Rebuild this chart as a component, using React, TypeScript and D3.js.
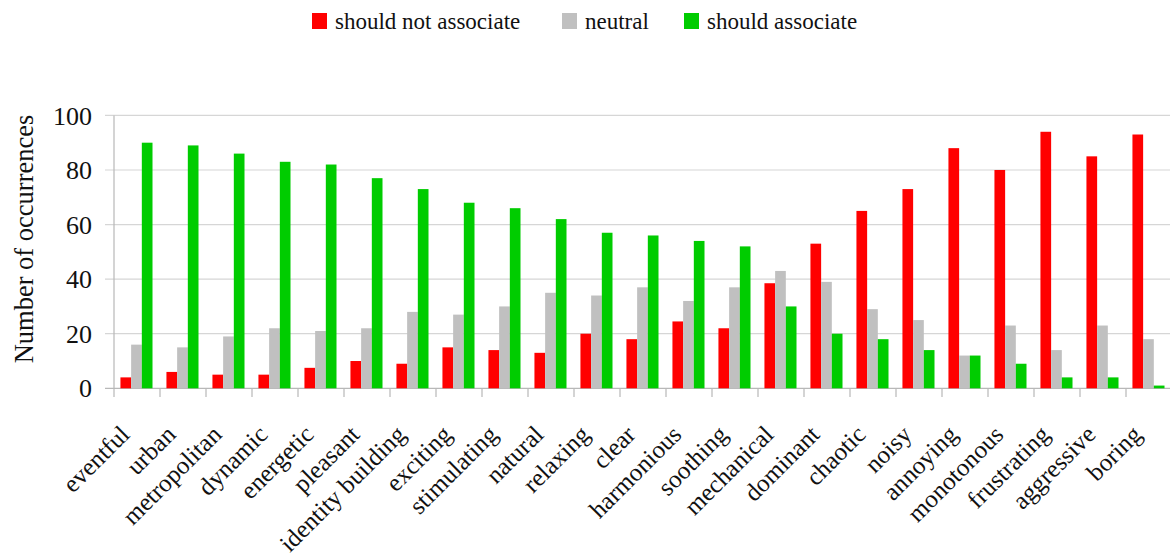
import React from "react";
import * as d3 from "d3";

// Adjectives rated by respondents, in display order
const categories = [
  "eventful", "urban", "metropolitan", "dynamic", "energetic", "pleasant",
  "identity building", "exciting", "stimulating", "natural", "relaxing", "clear",
  "harmonious", "soothing", "mechanical", "dominant", "chaotic", "noisy",
  "annoying", "monotonous", "frustrating", "aggressive", "boring",
];

const shouldNotAssociate = [4, 6, 5, 5, 7.5, 10, 9, 15, 14, 13, 20, 18, 24.5, 22, 38.5, 53, 65, 73, 88, 80, 94, 85, 93];
const neutral = [16, 15, 19, 22, 21, 22, 28, 27, 30, 35, 34, 37, 32, 37, 43, 39, 29, 25, 12, 23, 14, 23, 18];
const shouldAssociate = [90, 89, 86, 83, 82, 77, 73, 68, 66, 62, 57, 56, 54, 52, 30, 20, 18, 14, 12, 9, 4, 4, 1];

const seriesNames = ["should not associate", "neutral", "should associate"];
const seriesColors = ["#ff0000", "#c0c0c0", "#00cc00"];
const seriesValues = [shouldNotAssociate, neutral, shouldAssociate];

const yTicks = [0, 20, 40, 60, 80, 100];
const yTitle = "Number of occurrences";

const W = 1170;
const H = 554;
const FONT = '"Liberation Serif", "DejaVu Serif", serif';
const textStyle = { fontFamily: FONT };

export default function App() {
  const x0 = d3.scaleBand<string>().domain(categories).range([114, 1172]).padding(0);
  const bw = x0.bandwidth();
  const x1 = d3.scaleBand<number>().domain([0, 1, 2]).range([bw * 0.14, bw * 0.837]).padding(0);
  const y = d3.scaleLinear().domain([0, 100]).range([388.3, 115.4]);

  const legendItems = [
    { sx: 312, tx: 335 },
    { sx: 562, tx: 585 },
    { sx: 684, tx: 707 },
  ];

  return (
    <svg
      width={W}
      height={H}
      style={{ position: "absolute", left: 0, top: 0, background: "#fff", fontFamily: FONT }}
    >
      {/* legend */}
      {legendItems.map((it, i) => (
        <g key={seriesNames[i]}>
          <rect x={it.sx} y={13} width={15} height={16} fill={seriesColors[i]} />
          <text x={it.tx} y={29} fontSize={23} fill="#111" style={textStyle}>
            {seriesNames[i]}
          </text>
        </g>
      ))}

      {/* horizontal gridlines and y ticks */}
      {yTicks.map((t) => (
        <g key={t}>
          <line
            x1={105}
            x2={W}
            y1={y(t)}
            y2={y(t)}
            stroke={t === 0 ? "#b8b8b8" : "#d6d6d6"}
            strokeWidth={1.2}
          />
          <text x={92} y={y(t)} dy="0.35em" textAnchor="end" fontSize={26} fill="#111" style={textStyle}>
            {t}
          </text>
        </g>
      ))}

      {/* y axis line */}
      <line x1={114} x2={114} y1={y(100)} y2={397} stroke="#b8b8b8" strokeWidth={1.2} />

      {/* category boundary ticks */}
      {categories.map((c) => (
        <line
          key={"t" + c}
          x1={(x0(c) as number) + bw}
          x2={(x0(c) as number) + bw}
          y1={y(0)}
          y2={397}
          stroke="#b8b8b8"
          strokeWidth={1.2}
        />
      ))}

      {/* bars */}
      {categories.map((c, ci) => (
        <g key={c} transform={`translate(${x0(c)},0)`}>
          {seriesValues.map((vals, si) => (
            <rect
              key={si}
              x={x1(si)}
              y={y(vals[ci])}
              width={x1.bandwidth()}
              height={y(0) - y(vals[ci])}
              fill={seriesColors[si]}
            />
          ))}
        </g>
      ))}

      {/* category labels */}
      {categories.map((c) => (
        <text
          key={"l" + c}
          transform={`translate(${(x0(c) as number) + bw / 2 - 6},436) rotate(-45)`}
          textAnchor="end"
          fontSize={25}
          fill="#111"
          style={textStyle}
        >
          {c}
        </text>
      ))}

      {/* y axis title */}
      <text
        transform={`translate(33,239) rotate(-90)`}
        textAnchor="middle"
        fontSize={26.5}
        fill="#111"
        style={textStyle}
      >
        {yTitle}
      </text>
    </svg>
  );
}
